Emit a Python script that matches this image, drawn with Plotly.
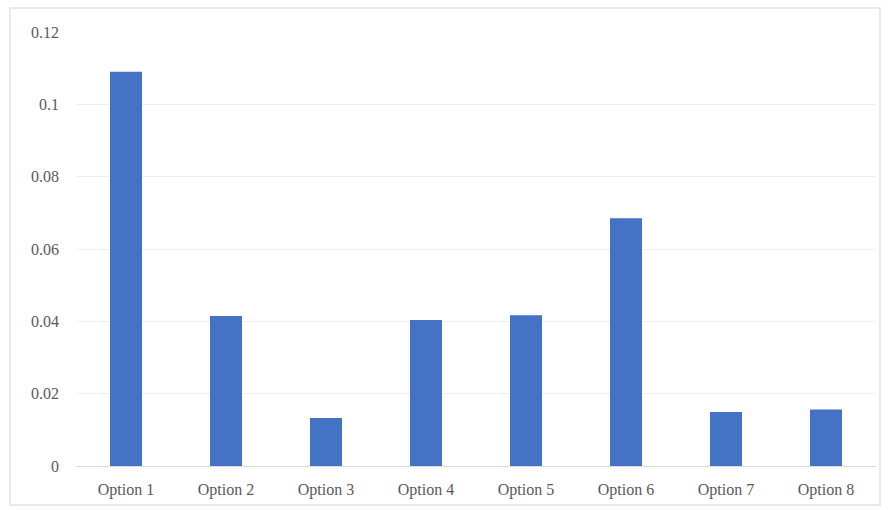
import plotly.graph_objects as go

categories = ["Option 1", "Option 2", "Option 3", "Option 4", "Option 5", "Option 6", "Option 7", "Option 8"]
values = [0.109, 0.0415, 0.0133, 0.0404, 0.0417, 0.0685, 0.0149, 0.0156]
tick_vals = [0, 0.02, 0.04, 0.06, 0.08, 0.1, 0.12]
tick_text = ["0", "0.02", "0.04", "0.06", "0.08", "0.1", "0.12"]

W, H = 889, 510
ml, mr, mt, mb = 76, 13, 32, 44
pw, ph = W - ml - mr, H - mt - mb

fig = go.Figure(go.Bar(x=categories, y=values, marker_color="#4472C4", marker_line_width=0))

def px_to_paper_x(px):
    return (px - ml) / pw

def px_to_paper_y(py):
    return (H - mb - py) / ph

fig.update_layout(
    width=W, height=H,
    margin=dict(l=ml, r=mr, t=mt, b=mb),
    paper_bgcolor="white", plot_bgcolor="white",
    bargap=0.68,
    showlegend=False,
    font=dict(family="Liberation Serif", size=16, color="#595959"),
    xaxis=dict(showgrid=False, showline=True, linecolor="#d9d9d9", linewidth=1,
               ticks="", ticklabelstandoff=9, tickfont=dict(size=16, color="#595959")),
    yaxis=dict(range=[0, 0.12], tickvals=tick_vals, ticktext=tick_text,
               showgrid=True, gridcolor="#efefef", gridwidth=1, zeroline=False,
               showline=False, ticks="", ticklabelstandoff=16,
               tickfont=dict(size=16, color="#595959")),
    shapes=[dict(type="rect", xref="paper", yref="paper",
                 x0=px_to_paper_x(10), x1=px_to_paper_x(880),
                 y0=px_to_paper_y(505), y1=px_to_paper_y(8),
                 line=dict(color="#e3e3e3", width=1.5), fillcolor="rgba(0,0,0,0)", layer="below")],
)

fig.write_html("out.html")
